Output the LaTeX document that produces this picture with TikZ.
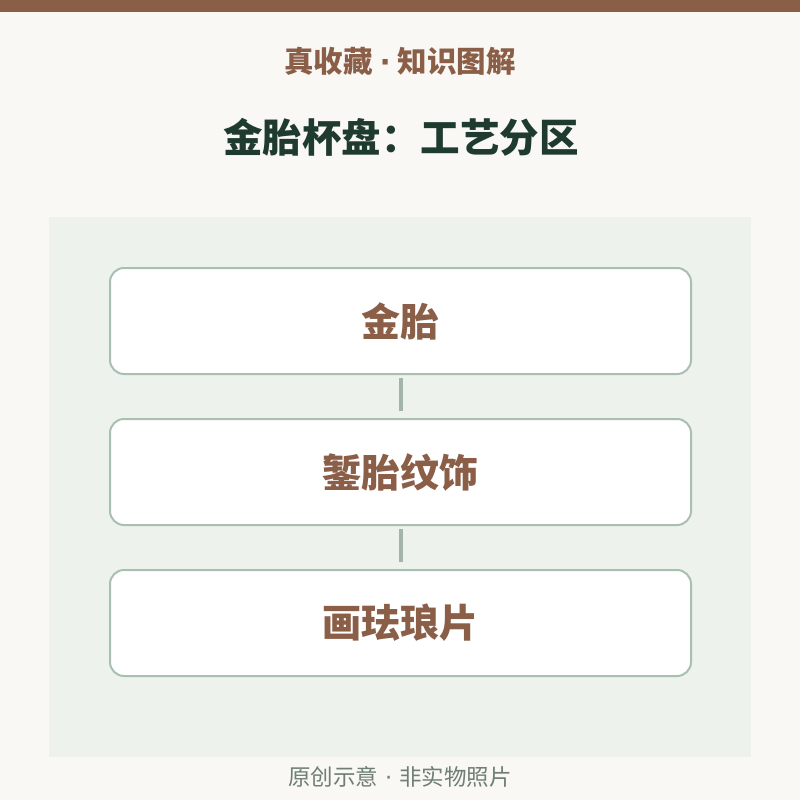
\documentclass[tikz,border=0pt]{standalone}
\usepackage{fontspec}
\newfontfamily\cjk{Noto Sans CJK SC}
\newfontfamily\cjkb{Noto Sans CJK SC Black}
\newfontfamily\dotfont{DejaVu Sans}
\definecolor{bg}{HTML}{F9F8F4}
\definecolor{bar}{HTML}{8B5E48}
\definecolor{panel}{HTML}{EDF2EC}
\definecolor{edge}{HTML}{A9C0B0}
\definecolor{link}{HTML}{A3B5A8}
\definecolor{brown}{HTML}{8B5E48}
\definecolor{ink}{HTML}{1F3A2E}
\definecolor{foot}{HTML}{6F7F74}
\tikzset{
  stage/.style={draw=edge, line width=2pt, fill=white, rounded corners=14pt,
    minimum width=581pt, minimum height=106pt, inner sep=0pt,
    font=\cjkb\fontsize{39}{43}\selectfont, text=brown},
  linkline/.style={draw=link, line width=4pt}
}
\begin{document}
\begin{tikzpicture}[x=1pt,y=-1pt]
\useasboundingbox (0,0) rectangle (800,800);
\fill[bg] (0,0) rectangle (800,800);
\fill[bar] (0,0) rectangle (800,12);
\fill[panel] (49,217) rectangle (751,757);
\node[font=\cjkb\fontsize{29.5}{32}\selectfont, text=brown] (sub) at (400,61) {真收藏\hspace{7pt}{\dotfont\bfseries ·}\hspace{7pt}知识图解};
\node[font=\cjkb\fontsize{39.5}{43}\selectfont, text=ink] (title) at (401,137) {金胎杯盘：工艺分区};
\node[stage] (a) at (400.5,321) {金胎};
\node[stage] (b) at (400.5,472) {錾胎纹饰};
\node[stage] (c) at (400.5,623) {画珐琅片};
\draw[linkline, shorten <=3pt, shorten >=7pt] (a.south) -- (b.north);
\draw[linkline, shorten <=3pt, shorten >=7pt] (b.south) -- (c.north);
\node[font=\cjk\fontsize{22.5}{26}\selectfont, text=foot] (foot) at (400,777) {原创示意\hspace{7pt}{\dotfont ·}\hspace{7pt}非实物照片};
\end{tikzpicture}
\end{document}
